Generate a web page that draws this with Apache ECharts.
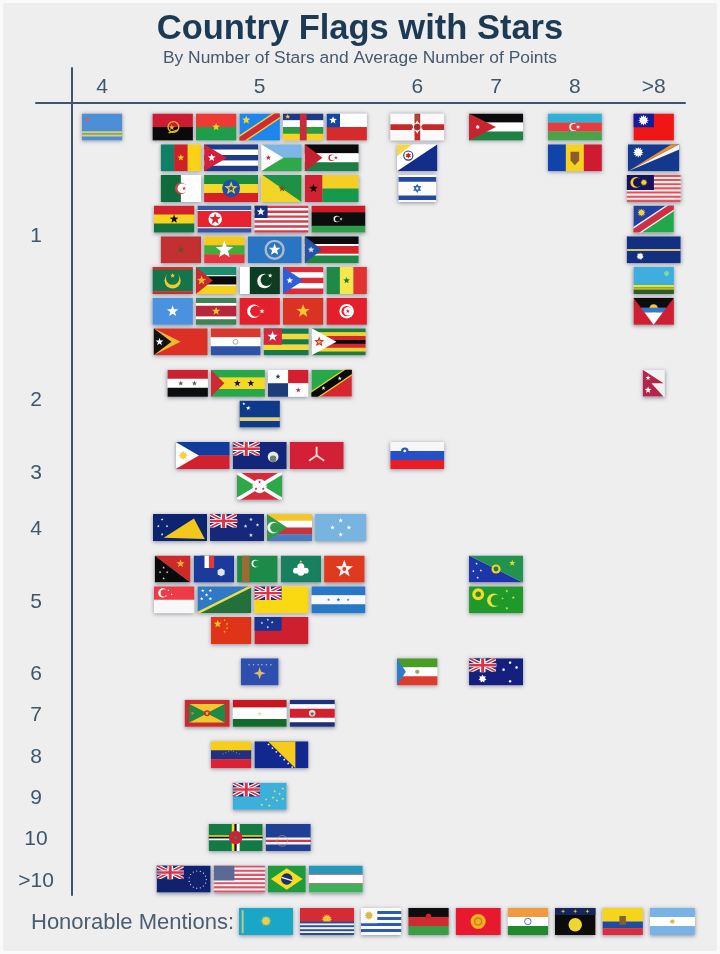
<!DOCTYPE html>
<html><head><meta charset="utf-8">
<style>html,body{margin:0;padding:0;background:#fafafa}#c{width:720px;height:954px}</style>
<script src="https://cdn.jsdelivr.net/npm/echarts@6/dist/echarts.min.js"></script>
</head><body><div id="c"></div>
<script>
// ---- DATA: axis labels and which flags sit in which cell (stars row x points column) ----
const pointLabels = ['4','5','6','7','8','>8'];
const pointSlots  = [0,2,4,5,6,7];
const starLabels  = ['1','2','3','4','5','6','7','8','9','10','>10'];

const stars1points4 = [['aw']];
const stars1points5 = [['ao','bf','cd','cf','cl'],['cm','cu','dj','eh'],['dz','et','gy','gw'],['gh','kp','lr','ly'],
  ['ma','mm','mp','ss'],['mr','mz','pk','pr','sn'],['so','sr','tr','vn','tn'],['tl','py','tg','zw']];
const stars1points6 = [['nir'],['bq'],['il']];
const stars1points7 = [['jo']];
const stars1points8 = [['az'],['md']];
const stars1pointsMore = [['tw'],['mh'],['my'],['na'],['nr'],['rw'],['ag']];
const stars2points5 = [['sy','st','pa','kn'],['cw']];
const stars2pointsMore = [['np']];
const stars3points5 = [['ph','ky','im'],['bi']];
const stars3points6 = [['si']];
const stars4points5 = [['tk','nz','km','fm']];
const stars5points5 = [['pg','tf','tm','mo','hk'],['sg','sb','nu','hn'],['cn','ws']];
const stars5points7 = [['cx'],['cc']];
const stars6points5 = [['xk']];
const stars6points6 = [['gq']];
const stars6points7 = [['au']];
const stars7points5 = [['gd','tj','cr']];
const stars8points5 = [['ve','ba']];
const stars9points5 = [['tv']];
const stars10points5 = [['dm','cv']];
const starsMorePoints5 = [['ck','us','br','uz']];
const honorableMentions = ['kz','ki','uy','mw','kg','in','gp','ec','ar'];
const honorableTitle = 'Honorable Mentions:';

const cellTable = [
 [0,0,stars1points4],[0,1,stars1points5],[0,2,stars1points6],[0,3,stars1points7],[0,4,stars1points8],[0,5,stars1pointsMore],
 [1,1,stars2points5],[1,5,stars2pointsMore],[2,1,stars3points5],[2,2,stars3points6],[3,1,stars4points5],
 [4,1,stars5points5],[4,3,stars5points7],[5,1,stars6points5],[5,2,stars6points6],[5,3,stars6points7],
 [6,1,stars7points5],[7,1,stars8points5],[8,1,stars9points5],[9,1,stars10points5],[10,1,starsMorePoints5]];

// ---- FLAG ARTWORK: glyphs in unit coordinates of one flag ----
const R=(x,y,w,h,c)=>['r',x,y,w,h,c], P=(pts,c)=>['p',pts,c], C=(x,y,r,c)=>['c',x,y,r,c],
      O=(x,y,r,t,c)=>['o',x,y,r,t,c], S=(x,y,r,c,n)=>['s',x,y,r,c,n||5], L=(a,b,c,d,t,k)=>['l',a,b,c,d,t,k],
      M=(x,y,r,c,bg,dx,dy)=>['m',x,y,r,c,bg,dx==null?.3:dx,dy||0];
const Hz=(...a)=>{const t=a.reduce((s,v)=>s+(Array.isArray(v)?v[1]:1),0);let y=0;return a.map(v=>{const k=Array.isArray(v)?v[0]:v,w=(Array.isArray(v)?v[1]:1)/t,o=R(0,y,1,w,k);y+=w;return o;});};
const Vt=(...a)=>a.map((k,i)=>R(i/a.length,0,1/a.length,1,k));
const Stripes=(n,a,b)=>Hz(...Array.from({length:n},(_, i)=>i%2?b:a));
const UJ=(x,y,w,h)=>{const d=(p,q,c)=>[
   P([x,y,x+w*p,y,x+w,y+h*(1-p),x+w,y+h,x+w*(1-p),y+h,x,y+h*p],c),
   P([x+w,y,x+w*(1-p),y,x,y+h*(1-p),x,y+h,x+w*p,y+h,x+w,y+h*p],c)];
  return [R(x,y,w,h,'#1a2f78'),...d(.16,0,'#fff'),...d(.07,0,'#d8344a'),
    R(x+w*.4,y,w*.2,h,'#fff'),R(x,y+h*.36,w,h*.28,'#fff'),R(x+w*.45,y,w*.1,h,'#d8344a'),R(x,y+h*.42,w,h*.16,'#d8344a')];};
const Ring=(x,y,r,n,s,c)=>Array.from({length:n},(_,i)=>C(x+Math.cos(i/n*6.283)*r/ (s||2),y+Math.sin(i/n*6.283)*r,.022,c));

const FLAGS = {
 aw:[1.5,[R(0,0,1,1,'#4d8fd6'),R(0,.66,1,.06,'#e2d25a'),R(0,.78,1,.06,'#e2d25a'),S(.13,.2,.12,'#d8605c',4)]],
 ao:[1.5,[...Hz('#cc1b33','#0a0a0a'),O(.52,.5,.2,.05,'#e9b923'),S(.48,.52,.11,'#e9b923'),L(.4,.72,.62,.62,.05,'#e9b923')]],
 bf:[1.5,[...Hz('#ee3a34','#1e9e4a'),S(.5,.5,.15,'#f2d21f')]],
 cd:[1.5,[R(0,0,1,1,'#1d86ee'),L(0,1,1,0,.32,'#f4d534'),L(0,1,1,0,.22,'#cf2b36'),S(.17,.24,.17,'#f4d534')]],
 cf:[1.5,[...Hz('#1d3a87','#fff','#2c9a3e','#f4d226'),R(.42,0,.16,1,'#c92a3c'),S(.12,.12,.1,'#f4d226')]],
 cl:[1.5,[R(0,0,1,.5,'#fff'),R(0,.5,1,.5,'#d52b2b'),R(0,0,.33,.5,'#13479c'),S(.165,.25,.15,'#fff')]],
 cm:[1.5,[...Vt('#0f8065','#ce2027','#fbd116'),S(.5,.5,.13,'#f5d21f')]],
 cu:[2,[...Stripes(5,'#1e3a8a','#fff'),P([0,0,.42,.5,0,1],'#d3213c'),S(.14,.5,.15,'#fff')]],
 dj:[1.5,[...Hz('#7cb6e4','#2fa84a'),P([0,0,.55,.5,0,1],'#fff'),S(.18,.5,.1,'#c8202f')]],
 eh:[2,[...Hz('#0a0a0a','#fff','#1e7d45'),P([0,0,.33,.5,0,1],'#c8202f'),M(.5,.5,.12,'#c8202f','#fff',.3),S(.58,.5,.07,'#c8202f')]],
 dz:[1.5,[...Vt('#0e6b3c','#0e6b3c','#fff','#fff').slice(0),M(.5,.5,.22,'#c8434c','#fff',.25),S(.58,.5,.08,'#c8434c')]],
 et:[2,[...Hz('#1b8a3c','#f4d92b','#d81e28'),C(.5,.5,.33,'#1e4fa8'),S(.5,.5,.26,'#e7cd3a'),S(.5,.5,.12,'#1e4fa8')]],
 gy:[1.5,[R(0,0,1,1,'#f3d526'),P([.03,0,1,0,1,1],'#1f9146'),S(.52,.5,.14,'#6f5a1e')]],
 gw:[2,[R(0,0,.33,1,'#cf2331'),R(.33,0,.67,.5,'#f6cd22'),R(.33,.5,.67,.5,'#17994d'),S(.165,.5,.17,'#101010')]],
 gh:[1.5,[...Hz('#d1232d','#f6d31c','#14713f'),S(.5,.5,.17,'#111')]],
 kp:[2,[...Hz(['#3457a6',.16],['#fff',.04],['#e6232f',.6],['#fff',.04],['#3457a6',.16]),C(.33,.5,.25,'#fff'),S(.33,.5,.22,'#d8232e')]],
 lr:[2,[...Stripes(11,'#d83c4e','#fff'),R(0,0,.24,.45,'#162f78'),S(.12,.23,.16,'#fff')]],
 ly:[2,[...Hz(['#cf1a25',1],['#0d0d0d',2],['#2f9c49',1]),M(.47,.5,.12,'#eee','#0d0d0d',.3),S(.55,.5,.06,'#eee')]],
 ma:[1.5,[R(0,0,1,1,'#c23031'),S(.5,.5,.14,'#6a4a30')]],
 mm:[1.5,[...Hz('#f3c91b','#45ab3b','#e3343f'),S(.5,.5,.34,'#fff')]],
 mp:[2,[R(0,0,1,1,'#2a74c4'),O(.5,.5,.33,.09,'#a9bcc8'),S(.5,.5,.23,'#fff')]],
 ss:[2,[...Hz(['#0c0c0c',4],['#fff',1],['#d8222c',4],['#fff',1],['#1f8744',4]),P([0,0,.32,.5,0,1],'#2453a8'),S(.12,.5,.13,'#d5dce8')]],
 mr:[1.5,[...Hz(['#c8302a',.1],['#15744a',.8],['#c8302a',.1]),M(.5,.5,.3,'#eccc2f','#15744a',0,-.28),S(.5,.32,.1,'#eccc2f')]],
 mz:[1.5,[...Hz(['#1c8d6f',3],['#fff',.4],['#0a0a0a',3],['#fff',.4],['#f5d31c',3]),P([0,0,.42,.5,0,1],'#c92a2a'),S(.14,.5,.18,'#e3b53c')]],
 pk:[1.5,[R(0,0,1,1,'#0c3d22'),R(0,0,.25,1,'#fff'),M(.62,.52,.27,'#f2f2f2','#0c3d22',.28,-.15),S(.76,.32,.09,'#f2f2f2')]],
 pr:[1.5,[...Stripes(5,'#dc2c3a','#fff'),P([0,0,.5,.5,0,1],'#2f5fd8'),S(.17,.5,.13,'#fff')]],
 sn:[1.5,[...Vt('#1d8b45','#f7e74b','#e13332'),S(.5,.5,.13,'#1d7a3c')]],
 so:[1.5,[R(0,0,1,1,'#4a92e0'),S(.5,.5,.22,'#fff')]],
 sr:[1.5,[...Hz(['#3f8254',.2],['#fff',.1],['#b8263c',.4],['#fff',.1],['#3f8254',.2]),S(.5,.5,.16,'#f0c63a')]],
 tr:[1.5,[R(0,0,1,1,'#e4202c'),M(.36,.5,.25,'#fff','#e4202c',.25),S(.56,.5,.1,'#fff')]],
 vn:[1.5,[R(0,0,1,1,'#da3323'),S(.5,.5,.26,'#f7c52c')]],
 tn:[1.5,[R(0,0,1,1,'#e2202c'),C(.5,.5,.27,'#fff'),M(.5,.5,.19,'#e2202c','#fff',.25),S(.53,.5,.08,'#e2202c')]],
 tl:[2,[R(0,0,1,1,'#dc2f25'),P([0,0,.5,.5,0,1],'#f0b82c'),P([0,0,.33,.5,0,1],'#111'),S(.11,.5,.15,'#fff')]],
 py:[1.85,[...Hz('#d8382e','#fff','#2d52a8'),O(.5,.5,.09,.03,'#8a9aa5')]],
 tg:[1.67,[...Stripes(5,'#157a4b','#f4d93a'),R(0,0,.4,.6,'#d3283e'),S(.2,.3,.2,'#fff')]],
 zw:[2,[...Hz('#1f7c3e','#f4d32c','#d3262f','#0b0b0b','#d3262f','#f4d32c','#1f7c3e'),P([0,0,.46,.5,0,1],'#fff'),S(.14,.5,.2,'#d3262f'),S(.14,.5,.1,'#e8b92e')]],
 sy:[1.5,[...Hz('#cb2233','#fff','#0d0d0d'),S(.33,.5,.1,'#3f6b4a'),S(.67,.5,.1,'#3f6b4a')]],
 st:[2,[...Hz(['#26a84a',2],['#f6d823',3],['#26a84a',2]),P([0,0,.25,.5,0,1],'#cc2a34'),S(.49,.5,.13,'#111'),S(.74,.5,.13,'#111')]],
 pa:[1.5,[R(0,0,.5,.5,'#fff'),R(.5,0,.5,.5,'#d31f2f'),R(0,.5,.5,.5,'#1d3c78'),R(.5,.5,.5,.5,'#fff'),S(.25,.25,.1,'#1d3c78'),S(.75,.75,.1,'#b82c4a')]],
 kn:[1.5,[P([0,0,1,0,0,1],'#27a84a'),P([1,0,1,1,0,1],'#d8262f'),L(0,1,1,0,.36,'#f5d326'),L(0,1,1,0,.27,'#0a0a0a'),S(.3,.68,.08,'#fff'),S(.7,.32,.08,'#fff')]],
 cw:[1.5,[R(0,0,1,1,'#0e3a8c'),R(0,.62,1,.13,'#e3d27a'),S(.11,.12,.06,'#fff'),S(.22,.28,.09,'#fff')]],
 np:[.82,[R(0,0,1,1,'#f2f1f1'),P([0,0,.95,.5,.4,.5,.95,1,0,1],'#b0274b'),S(.25,.3,.1,'#fff'),S(.25,.75,.13,'#fff')]],
 ph:[2,[...Hz('#123c9c','#d3202f'),P([0,0,.43,.5,0,1],'#fff'),S(.14,.5,.17,'#f3d23c',8)]],
 ky:[2,[R(0,0,1,1,'#14257c'),...UJ(0,0,.5,.5),C(.75,.55,.2,'#e9e9e9'),C(.75,.62,.12,'#6b7f72')]],
 im:[2,[R(0,0,1,1,'#d32036'),L(.5,.5,.5,.18,.07,'#f3d9d6'),L(.5,.5,.36,.7,.07,'#f3d9d6'),L(.5,.5,.64,.7,.07,'#f3d9d6')]],
 bi:[1.67,[R(0,0,1,1,'#d52b3a'),P([0,0,.5,.5,0,1],'#2fa84a'),P([1,0,.5,.5,1,1],'#2fa84a'),L(0,0,1,1,.14,'#fff'),L(1,0,0,1,.14,'#fff'),C(.5,.5,.26,'#fff'),S(.5,.35,.06,'#c8202f'),S(.42,.6,.06,'#c8202f'),S(.58,.6,.06,'#c8202f')]],
 si:[2,[...Hz('#f7f7f7','#2450c8','#ea1c24'),C(.27,.35,.14,'#2450c8'),S(.27,.33,.07,'#fff',6)]],
 tk:[2,[R(0,0,1,1,'#0d2470'),P([.2,.88,.96,.92,.76,.16],'#f2c81c'),S(.17,.2,.05,'#fff',5),S(.26,.45,.05,'#fff'),S(.1,.45,.05,'#fff'),S(.17,.75,.05,'#fff')]],
 nz:[2,[R(0,0,1,1,'#16287c'),...UJ(0,0,.5,.5),S(.76,.2,.07,'#dfe4f0'),S(.66,.45,.07,'#dfe4f0'),S(.88,.4,.07,'#dfe4f0'),S(.76,.78,.08,'#dfe4f0')]],
 km:[1.67,[...Hz('#f3c72c','#fff','#c9343d','#4a7cc1'),P([0,0,.45,.5,0,1],'#2f9a4a'),M(.14,.5,.22,'#f2f2f2','#2f9a4a',.3)]],
 fm:[1.9,[R(0,0,1,1,'#78b4e0'),S(.5,.24,.09,'#fff'),S(.5,.76,.09,'#fff'),S(.34,.5,.09,'#fff'),S(.66,.5,.09,'#fff')]],
 pg:[1.33,[P([0,0,1,0,1,1],'#cf2a2a'),P([0,0,1,1,0,1],'#0a0a0a'),S(.72,.3,.16,'#f2b23a'),S(.25,.45,.05,'#ddd'),S(.15,.62,.05,'#ddd'),S(.35,.62,.05,'#ddd'),S(.25,.85,.05,'#ddd')]],
 tf:[1.5,[R(0,0,1,1,'#1a3a9c'),R(.16,0,.11,.45,'#1a3a9c'),R(.27,0,.11,.45,'#fff'),R(.38,0,.12,.45,'#e23a3a'),C(.68,.62,.13,'#dfe6f2'),S(.68,.62,.16,'#dfe6f2',6)]],
 tm:[1.5,[R(0,0,1,1,'#1d8a4a'),R(.12,0,.18,1,'#9b6a35'),M(.45,.3,.14,'#eef5ec','#1d8a4a',.3)]],
 mo:[1.5,[R(0,0,1,1,'#18805f'),C(.5,.62,.13,'#fff'),C(.38,.56,.11,'#fff'),C(.62,.56,.11,'#fff'),C(.5,.42,.13,'#fff'),S(.5,.22,.06,'#f0d44a')]],
 hk:[1.5,[R(0,0,1,1,'#dd3a20'),S(.5,.5,.34,'#fdf0ee'),C(.5,.5,.07,'#dd3a20')]],
 sg:[1.5,[...Hz('#ee3b45','#f8f8f8'),M(.22,.25,.17,'#fff','#ee3b45',.35),S(.36,.15,.04,'#fff'),S(.44,.3,.04,'#fff'),S(.3,.36,.04,'#fff')]],
 sb:[2,[P([0,0,1,0,0,1],'#2f79c6'),P([1,0,1,1,0,1],'#23703a'),L(0,1,1,0,.09,'#eedc4a'),S(.1,.16,.07,'#fff'),S(.24,.16,.07,'#fff'),S(.17,.32,.07,'#fff'),S(.08,.46,.07,'#fff'),S(.24,.46,.07,'#fff')]],
 nu:[2,[R(0,0,1,1,'#fbd912'),...UJ(0,0,.5,.5)]],
 hn:[2,[...Hz('#2878c8','#f6f8fb','#2878c8'),S(.5,.5,.08,'#2878c8'),S(.32,.5,.06,'#4a88c8'),S(.68,.5,.06,'#4a88c8')]],
 cn:[1.5,[R(0,0,1,1,'#df3417'),S(.17,.26,.15,'#f2c12c'),S(.34,.12,.05,'#f2c12c'),S(.4,.26,.05,'#f2c12c'),S(.4,.42,.05,'#f2c12c'),S(.34,.55,.05,'#f2c12c')]],
 ws:[2,[R(0,0,1,1,'#ce1f2e'),R(0,0,.5,.5,'#1a3390'),S(.25,.1,.05,'#fff'),S(.14,.22,.05,'#fff'),S(.33,.2,.05,'#fff'),S(.25,.38,.05,'#fff')]],
 cx:[2,[P([0,0,1,1,0,1],'#1c35a8'),P([0,0,1,0,1,1],'#22924f'),C(.5,.5,.17,'#f0d42c'),C(.5,.5,.09,'#1c7d3c'),S(.8,.28,.12,'#f0d42c'),S(.14,.3,.05,'#fff'),S(.22,.55,.05,'#fff'),S(.08,.58,.05,'#fff'),S(.16,.82,.05,'#fff')]],
 cc:[2,[R(0,0,1,1,'#1f9a2a'),C(.17,.3,.22,'#f0dc28'),C(.17,.3,.1,'#2d8a2a'),M(.46,.52,.25,'#e8e03c','#1f9a2a',.35),S(.7,.18,.06,'#e8e03c'),S(.82,.42,.06,'#e8e03c'),S(.7,.82,.06,'#e8e03c'),S(.62,.45,.05,'#e8e03c')]],
 xk:[1.4,[R(0,0,1,1,'#2f4fae'),S(.5,.55,.22,'#e3be68',4),...[.22,.34,.46,.56,.68,.8].map(x=>S(x,.24,.035,'#f2f2f2'))]],
 gq:[1.5,[...Hz('#4a9c24','#fff','#df3b2c'),P([0,0,.22,.5,0,1],'#2d7cc8'),C(.5,.5,.08,'#9aa37a')]],
 au:[2,[R(0,0,1,1,'#151f7e'),...UJ(0,0,.5,.5),S(.25,.76,.15,'#fff',7),S(.76,.16,.06,'#fff',7),S(.64,.42,.06,'#fff',7),S(.88,.34,.06,'#fff',7),S(.76,.85,.06,'#fff',7)]],
 gd:[1.67,[R(0,0,1,1,'#cc2a2e'),P([.1,.16,.9,.16,.5,.5],'#edc92c'),P([.1,.84,.9,.84,.5,.5],'#edc92c'),P([.1,.16,.5,.5,.1,.84],'#1e8a4a'),P([.9,.16,.5,.5,.9,.84],'#1e8a4a'),C(.5,.5,.11,'#cc2a2e'),S(.5,.5,.08,'#edc92c'),C(.18,.5,.05,'#cc7a2e')]],
 tj:[2,[...Hz(['#c8161e',2],['#fff',3],['#116b2a',2]),S(.5,.52,.09,'#eadf9a')]],
 cr:[1.67,[...Hz(['#1e327c',1],['#fff',1],['#d2202f',2],['#fff',1],['#1e327c',1]),C(.5,.5,.12,'#e8e3da'),C(.5,.52,.06,'#8a5a3a')]],
 ve:[1.5,[...Hz('#f7cf19','#22307e','#dc2134'),...[.3,.37,.44,.5,.56,.63,.7].map((x,i)=>S(x,.47-.12*(1-Math.abs(i-3)/3),.025,'#c8d0e4'))]],
 ba:[2,[R(0,0,1,1,'#13288e'),P([.25,0,.76,0,.76,1],'#f7cb1c'),...[.12,.26,.4,.54,.68,.82,.96].map(t=>S(.2+t*.52,t*1,.05,'#fff'))]],
 tv:[2,[R(0,0,1,1,'#3cb0db'),...UJ(0,0,.5,.5),...[[.54,.82],[.62,.62],[.68,.85],[.75,.55],[.82,.66],[.87,.42],[.93,.22],[.78,.32],[.93,.6]].map(a=>S(a[0],a[1],.055,'#f0e44a'))]],
 dm:[2,[R(0,0,1,1,'#137a44'),R(.43,0,.05,1,'#f4dc32'),R(.48,0,.04,1,'#111'),R(.52,0,.05,1,'#fff'),R(0,.41,1,.06,'#f4dc32'),R(0,.47,1,.06,'#111'),R(0,.53,1,.06,'#fff'),C(.5,.5,.25,'#c9243a'),S(.5,.5,.09,'#2f8a4c')]],
 cv:[1.67,[R(0,0,1,1,'#1f3f96'),R(0,.5,1,.08,'#f4f4f4'),R(0,.58,1,.08,'#cb3a4e'),R(0,.66,1,.08,'#f4f4f4'),O(.37,.62,.2,.02,'#cdbb5a')]],
 ck:[2,[R(0,0,1,1,'#10226e'),...UJ(0,0,.5,.5),...Ring(.76,.52,.32,15,2,'#f2f4fa')]],
 us:[1.9,[...Stripes(13,'#d95468','#f7f3f3'),R(0,0,.4,.54,'#5a6a96')]],
 br:[1.4,[R(0,0,1,1,'#1f9a3d'),P([.5,.1,.92,.5,.5,.9,.08,.5],'#f6dc22'),C(.5,.5,.21,'#1c2d70'),L(.36,.44,.64,.56,.05,'#f2f2f2')]],
 uz:[2,[...Hz(['#2998b8',4],['#c8424a',.3],['#fff',4],['#c8424a',.3],['#3eb259',4])]],
 nir:[2,[R(0,0,1,1,'#fbf9f9'),R(0,.4,1,.2,'#c12c28'),R(.45,0,.1,1,'#c12c28'),S(.5,.5,.25,'#f5eeee',6),C(.5,.5,.12,'#a52a2a'),C(.5,.15,.09,'#8a5a40')]],
 bq:[1.5,[R(0,0,1,1,'#fff'),P([1,0,1,1,0,1],'#122d8a'),P([0,0,.38,0,0,.45],'#f2d84a'),O(.28,.42,.17,.04,'#26305f'),S(.28,.42,.11,'#c8242e',6)]],
 il:[1.4,[R(0,0,1,1,'#fbfbfc'),R(0,.08,1,.16,'#2547a4'),R(0,.76,1,.16,'#2547a4'),S(.5,.5,.17,'#2c62b8',6),S(.5,.5,.06,'#fff',6)]],
 jo:[2,[...Hz('#0b0b0b','#fff','#1f8242'),P([0,0,.5,.5,0,1],'#c8242e'),S(.16,.5,.08,'#fff',7)]],
 az:[2,[...Hz('#2fb1d6','#e63b3f','#4aa24a'),M(.47,.5,.15,'#fff','#e63b3f',.3),S(.56,.5,.07,'#fff',8)]],
 md:[2,[...Vt('#1144aa','#f6d21e','#cf1b32'),P([.42,.28,.58,.28,.58,.6,.5,.78,.42,.6],'#8e5a30')]],
 tw:[1.5,[R(0,0,1,1,'#f01616'),R(0,0,.5,.5,'#141c9c'),S(.25,.25,.2,'#fff',12)]],
 mh:[1.9,[R(0,0,1,1,'#12398e'),P([0,1,1,.0,1,.2],'#f5f5f5'),P([0,1,1,0,.85,0],'#ef8e2c'),S(.2,.3,.2,'#fff',12)]],
 my:[2,[...Stripes(13,'#e0545e','#f8ecec'),R(0,0,.5,.55,'#14145c'),M(.17,.28,.2,'#f0cf2c','#14145c',.32),S(.32,.28,.13,'#f0cf2c',12)]],
 na:[1.5,[P([0,0,1,0,0,1],'#2140a0'),P([1,0,1,1,0,1],'#22a84a'),L(0,1,1,0,.34,'#f2f2f2'),L(0,1,1,0,.24,'#cf2f45'),S(.2,.26,.15,'#efd23c',12)]],
 nr:[2,[R(0,0,1,1,'#132f82'),R(0,.47,1,.06,'#d8c56a'),S(.25,.74,.14,'#fff',12)]],
 rw:[1.5,[...Hz(['#3eaede',2],['#ece52c',.5],['#2e5a2c',.5]),S(.82,.24,.12,'#7ed6a8',12),R(0,.75,1,.04,'#6f9a2c')]],
 ag:[1.5,[R(0,0,1,1,'#ce1f33'),P([0,0,1,0,.815,.37,.185,.37],'#0c0c0c'),C(.5,.4,.16,'#f0c83c'),P([.185,.37,.815,.37,.725,.55,.275,.55],'#2e7cd0'),P([.275,.55,.725,.55,.5,1],'#fff')]],
 kz:[2,[R(0,0,1,1,'#1aa6c6'),S(.5,.48,.2,'#e8d04a',12),R(.05,.08,.03,.84,'#bfc98a')]],
 ki:[2,[R(0,0,1,.55,'#d52b34'),S(.5,.42,.2,'#f3c22c',12),...Stripes(7,'#2c4d94','#f2f2f2').map(o=>R(0,.5+o[2]*.5,1,o[4]*.5,o[5]))]],
 uy:[1.5,[...Stripes(9,'#fbfbfd','#2c5cb0'),R(0,0,.4,.55,'#fbfbfd'),S(.2,.28,.17,'#d8ba4c',12)]],
 mw:[1.5,[...Hz('#0d0d0d','#d12a30','#3c9c44'),C(.5,.3,.1,'#c8242e')]],
 kg:[1.67,[R(0,0,1,1,'#e8192f'),C(.5,.5,.28,'#f1b51c'),O(.5,.5,.13,.05,'#d8702a')]],
 in:[1.5,[...Hz('#f29a3f','#fff','#1f8a2c'),O(.5,.5,.12,.03,'#3a4d94')]],
 gp:[1.5,[R(0,0,1,1,'#0b0b0b'),R(0,0,1,.25,'#16255c'),S(.2,.12,.08,'#e3c845',4),S(.5,.12,.08,'#e3c845',4),S(.8,.12,.08,'#e3c845',4),C(.5,.62,.25,'#f0d72c')]],
 ec:[1.5,[...Hz(['#f4d51c',2],['#1f4ca0',1],['#dc2b3a',1]),P([.42,.3,.58,.3,.58,.62,.42,.62],'#7d6232')]],
 ar:[1.67,[...Hz('#79b2e4','#fff','#79b2e4'),S(.5,.5,.1,'#e2b93c',12)]]
};

// ---- BUILD series from the tables ----
const FLAG_H = 27, GAP = 3, ROW_GAP = .35, HON_GAP = 6.9;
const codes = [], mainData = [], honorData = [];
const rowLines = starLabels.map((_, r) => Math.max(...cellTable.filter(c => c[0] === r).map(c => c[2].length)));
const rowStart = []; rowLines.reduce((s, n, r) => { rowStart[r] = s; return s + n + ROW_GAP; }, 0);
const rowCenters = rowLines.map((n, r) => rowStart[r] + (n - 1) / 2);
const widthOf = c => FLAGS[c][0] * FLAG_H;
cellTable.forEach(([r, col, lines]) => lines.forEach((line, li) => {
  const total = line.reduce((s, c) => s + widthOf(c), 0) + GAP * (line.length - 1);
  let off = -total / 2;
  line.forEach(c => { codes.push(c); mainData.push([pointSlots[col], rowStart[r] + li, off + widthOf(c) / 2, codes.length - 1]); off += widthOf(c) + GAP; });
}));
let honOff = 0;
honorableMentions.forEach(c => { codes.push(c); honorData.push([0, .5, honOff + widthOf(c) / 2, codes.length - 1]); honOff += widthOf(c) + HON_GAP; });

function glyph(op, W, H) {
  const t = op[0];
  if (t === 'r') return {type:'rect',shape:{x:op[1]*W,y:op[2]*H,width:op[3]*W+.3,height:op[4]*H+.3},style:{fill:op[5]}};
  if (t === 'p') { const pts=[]; for(let i=0;i<op[1].length;i+=2) pts.push([op[1][i]*W,op[1][i+1]*H]); return {type:'polygon',shape:{points:pts},style:{fill:op[2]}}; }
  if (t === 'c') return {type:'circle',shape:{cx:op[1]*W,cy:op[2]*H,r:op[3]*H},style:{fill:op[4]}};
  if (t === 'o') return {type:'circle',shape:{cx:op[1]*W,cy:op[2]*H,r:op[3]*H},style:{fill:'none',stroke:op[5],lineWidth:op[4]*H}};
  if (t === 'l') return {type:'line',shape:{x1:op[1]*W,y1:op[2]*H,x2:op[3]*W,y2:op[4]*H},style:{stroke:op[6],lineWidth:op[5]*H}};
  if (t === 's') { const n=op[5],pts=[],ro=op[3]*H,ri=ro*(n>6?.62:n===6?.58:n===4?.35:.42);
    for(let i=0;i<n*2;i++){const a=-Math.PI/2+i*Math.PI/n,q=i%2?ri:ro;pts.push([op[1]*W+Math.cos(a)*q,op[2]*H+Math.sin(a)*q]);}
    return {type:'polygon',shape:{points:pts},style:{fill:op[4]}}; }
  return null;
}
function renderFlag(params, api) {
  const base = api.coord([api.value(0), api.value(1)]);
  const f = FLAGS[codes[api.value(3)]], H = FLAG_H, W = f[0] * H;
  const kids = [];
  f[1].forEach(op => {
    if (op[0] === 'm') {
      const r = op[3]*H, cx = op[1]*W, cy = op[2]*H;
      kids.push({type:'circle',shape:{cx,cy,r},style:{fill:op[4]}});
      kids.push({type:'circle',shape:{cx:cx+op[6]*r,cy:cy+op[7]*r,r:r*.82},style:{fill:op[5]}});
    } else kids.push(glyph(op, W, H));
  });
  return {type:'group',x:base[0]+api.value(2)-W/2,y:base[1]-H/2,silent:true,children:[
    {type:'rect',shape:{x:0,y:0,width:W,height:H},style:{fill:'#ddd',shadowBlur:4,shadowOffsetY:1,shadowColor:'rgba(40,50,70,.5)'}},
    {type:'group',clipPath:{type:'rect',shape:{x:0,y:0,width:W,height:H}},children:kids}
  ]};
}

const inkColor = '#3d566b';
const chart = echarts.init(document.getElementById('c'), null, {renderer:'canvas'});
chart.setOption({
  animation:false,
  backgroundColor:'#fafafa',
  graphic:[{type:'rect',z:-10,silent:true,shape:{x:3,y:3,width:714,height:948,r:3},style:{fill:'#eeeeef'}}],
  title:[
    {text:'Country Flags with Stars',left:'center',top:7,textStyle:{fontFamily:'Liberation Sans',fontWeight:'bold',fontSize:34.5,color:'#1d3a55'}},
    {text:'By Number of Stars and Average Number of Points',left:'center',top:45,textStyle:{fontFamily:'Liberation Sans',fontWeight:'normal',fontSize:17.4,color:'#46596c'}},
    {text:honorableTitle,left:26,top:907,textStyle:{fontFamily:'Liberation Sans',fontWeight:'normal',fontSize:22,color:'#4a5e70'}}
  ],
  grid:[
    {left:36,right:35,top:68,bottom:59},
    {left:239,right:25,top:908,height:27}
  ],
  xAxis:[
    {type:'value',gridIndex:0,position:'top',offset:-35,min:-0.8376,max:7.398,splitLine:{show:false},axisTick:{show:false},
     axisLine:{show:true,onZero:false,lineStyle:{color:inkColor,width:2}},
     axisLabel:{customValues:pointSlots,margin:5,fontFamily:'Liberation Sans',fontSize:21,color:inkColor,
       formatter:v=>pointLabels[pointSlots.indexOf(v)]}},
    {type:'value',gridIndex:1,show:false,min:0,max:456}
  ],
  yAxis:[
    {type:'value',gridIndex:0,inverse:true,position:'left',offset:-36,min:-1.922,max:25.02,splitLine:{show:false},axisTick:{show:false},
     axisLine:{show:true,onZero:false,lineStyle:{color:inkColor,width:2}},
     axisLabel:{customValues:rowCenters,margin:36,align:'center',fontFamily:'Liberation Sans',fontSize:21,color:inkColor,
       rich:{a:{fontFamily:'Liberation Sans',fontSize:21,color:inkColor,padding:[4,0,0,0]}},
       formatter:v=>'{a|'+starLabels[rowCenters.findIndex(c=>Math.abs(c-v)<1e-6)]+'}'}},
    {type:'value',gridIndex:1,show:false,min:0,max:1}
  ],
  series:[
    {type:'custom',name:'Flags',coordinateSystem:'cartesian2d',xAxisIndex:0,yAxisIndex:0,clip:false,renderItem:renderFlag,encode:{x:0,y:1},data:mainData},
    {type:'custom',name:honorableTitle,coordinateSystem:'cartesian2d',xAxisIndex:1,yAxisIndex:1,clip:false,renderItem:renderFlag,encode:{x:0,y:1},data:honorData}
  ]
});
</script></body></html>
